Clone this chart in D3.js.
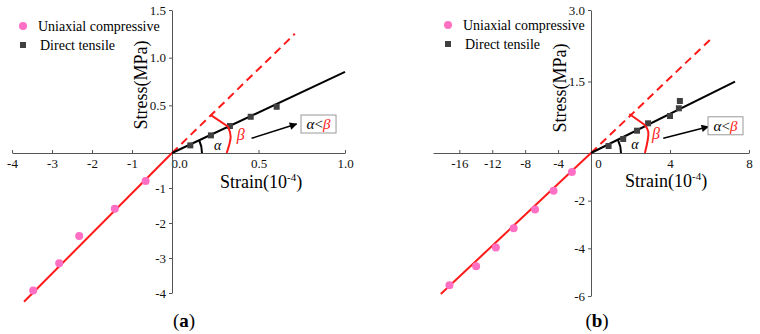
<!DOCTYPE html>
<html lang="en">
<head>
<meta charset="UTF-8">
<title>Stress-strain, compressive vs tensile</title>
<script src="https://d3js.org/d3.v7.min.js"></script>
<style>
  body { margin: 0; background: #fff; }
  svg { display: block; }
  svg text { font-family: "Liberation Serif", "DejaVu Serif", serif; }
  .axis path, .axis line { stroke: #555; }
  .axis text { font-size: 13px; fill: #111; }
</style>
</head>
<body>
<svg width="760" height="334"></svg>
<script>
const SERIF = "Liberation Serif, DejaVu Serif, serif";

// ---- panel (a) data ----
const compStrainA = [-3.47, -2.82, -2.32, -1.43, -0.66];
const compStressA = [-3.93, -3.15, -2.37, -1.59, -0.80];
const tensStrainA = [0.106, 0.225, 0.335, 0.455, 0.605];
const tensStressA = [0.08, 0.185, 0.283, 0.38, 0.485];
const compFitA = [[-3.7, -4.25], [0, 0]];
const tensFitA = [[0, 0], [1.0, 0.85]];
const dashFitA = [[0, 0], [0.71, 1.25]];
const xTicksA = [-4, -3, -2, -1, 0, 0.5, 1.0];
const yTicksA = [-4, -3, -2, -1, 0.5, 1.0, 1.5];

// ---- panel (b) data ----
const compStrainB = [-17.2, -13.96, -11.56, -9.4, -6.8, -4.55, -2.32];
const compStressB = [-5.55, -4.75, -3.96, -3.16, -2.37, -1.58, -0.80];
const tensStrainB = [0.89, 1.63, 2.33, 2.89, 4.0, 4.45, 4.5];
const tensStressB = [0.147, 0.294, 0.468, 0.623, 0.776, 0.938, 1.091];
const compFitB = [[-18.25, -5.92], [0, 0]];
const tensFitB = [[0, 0], [7.29, 1.496]];
const dashFitB = [[0, 0], [6.19, 2.44]];
const xTicksB = [-16, -12, -8, -4, 0, 4, 8];
const yTicksB = [-6, -4, -2, 1.5, 3.0];

// annotation anchors (data units)
const betaA = [[0.225, 0.398], [0.325, 0.275], [0.339, 0.171], [0.316, 0]];
const arrowA = [[0.46, 0.154], [0.72, 0.304]];
const labelsA = { alpha: [0.264, 0.06], beta: [0.397, 0.171], box: [0.847, 0.304] };
const betaB = [[1.94, 0.818], [2.73, 0.587], [2.9, 0.447], [2.73, 0]];
const arrowB = [[3.66, 0.308], [5.94, 0.552]];
const labelsB = { alpha: [2.23, 0.147], beta: [3.29, 0.378], box: [6.81, 0.571] };

const svg = d3.select("svg");

svg.append("defs").append("marker")
    .attr("id", "arrowhead")
    .attr("viewBox", "0 0 10 10")
    .attr("refX", 9).attr("refY", 5)
    .attr("markerWidth", 6).attr("markerHeight", 5)
    .attr("markerUnits", "strokeWidth")
    .attr("orient", "auto")
  .append("path")
    .attr("d", "M0,0 L10,5 L0,10 z")
    .attr("fill", "#000");

const fmt = d => d < 0 ? "-" + Math.abs(d) : null;

function drawPanel(p) {
  const x = d3.scaleLinear().domain(p.xDom).range(p.xRange);
  const y = d3.scaleLinear().domain(p.yDom).range(p.yRange);
  const g = svg.append("g").attr("font-family", SERIF);

  // x axis
  const xa = g.append("g").attr("class", "axis")
      .attr("transform", `translate(0,${y(0)})`)
      .call(d3.axisBottom(x).tickValues(p.xTicks).tickSize(-3).tickSizeOuter(0)
        .tickPadding(6).tickFormat(p.xFmt));
  xa.attr("font-family", SERIF).attr("font-size", 13);
  xa.selectAll(".tick text").filter(d => d === 0).attr("dx", 7);

  // y axis
  g.append("g").attr("class", "axis")
      .attr("transform", `translate(${x(0)},0)`)
      .call(d3.axisLeft(y).tickValues(p.yTicks).tickSize(3).tickSizeOuter(0)
        .tickPadding(3).tickFormat(p.yFmt))
      .attr("font-family", SERIF).attr("font-size", 13);

  const line = d3.line().x(d => x(d[0])).y(d => y(d[1]));

  g.append("path").attr("d", line(p.dashFit))
      .attr("fill", "none").attr("stroke", "#ff1a1a").attr("stroke-width", 2)
      .attr("stroke-dasharray", "8,5");
  g.append("path").attr("d", line(p.compFit))
      .attr("fill", "none").attr("stroke", "#ff1a1a").attr("stroke-width", 2);
  g.append("path").attr("d", line(p.tensFit))
      .attr("fill", "none").attr("stroke", "#000").attr("stroke-width", 2);

  g.selectAll(".comp").data(d3.zip(p.compStrain, p.compStress)).join("circle")
      .attr("cx", d => x(d[0])).attr("cy", d => y(d[1])).attr("r", 4)
      .attr("fill", "#ff70c4");
  g.selectAll(".tens").data(d3.zip(p.tensStrain, p.tensStress)).join("rect")
      .attr("x", d => x(d[0]) - 3).attr("y", d => y(d[1]) - 3)
      .attr("width", 6).attr("height", 6).attr("fill", "#404040");

  // alpha arc
  const end = p.tensFit[1];
  const ang = Math.atan2(y(0) - y(end[1]), x(end[0]) - x(0));
  g.append("path")
      .attr("transform", `translate(${x(0)},${y(0)})`)
      .attr("d", d3.arc()({ innerRadius: 30, outerRadius: 30, startAngle: Math.PI / 2 - ang, endAngle: Math.PI / 2 }))
      .attr("fill", "none").attr("stroke", "#000").attr("stroke-width", 2);
  g.append("text").attr("x", x(p.labels.alpha[0])).attr("y", y(p.labels.alpha[1]))
      .attr("text-anchor", "middle").attr("dominant-baseline", "middle")
      .style("font-style", "italic").style("font-size", "14px").text("α");

  // beta bracket
  g.append("path").attr("d", line(p.beta.slice(0, 2)))
      .attr("fill", "none").attr("stroke", "#ff1a1a").attr("stroke-width", 2);
  g.append("path").attr("d", line.curve(d3.curveCatmullRom)(p.beta.slice(1)))
      .attr("fill", "none").attr("stroke", "#ff1a1a").attr("stroke-width", 2);
  line.curve(d3.curveLinear);
  g.append("text").attr("x", x(p.labels.beta[0])).attr("y", y(p.labels.beta[1]))
      .attr("text-anchor", "middle").attr("dominant-baseline", "middle")
      .attr("fill", "#ff1a1a").style("font-style", "italic").style("font-size", "16px").text("β");

  // arrow
  g.append("path").attr("d", line(p.arrow))
      .attr("stroke", "#000").attr("stroke-width", 1.5).attr("marker-end", "url(#arrowhead)");

  // boxed relation
  const bx = x(p.labels.box[0]), by = y(p.labels.box[1]);
  g.append("rect").attr("x", bx - 17.5).attr("y", by - 9).attr("width", 35).attr("height", 18)
      .attr("fill", "#fff").attr("stroke", "#999").attr("stroke-width", 1);
  const bt = g.append("text").attr("x", bx).attr("y", by + 5)
      .attr("text-anchor", "middle").style("font-size", "15px");
  bt.append("tspan").style("font-style", "italic").text("α");
  bt.append("tspan").text("<");
  bt.append("tspan").style("font-style", "italic").attr("fill", "#ff1a1a").text("β");

  // axis titles
  g.append("text")
      .attr("transform", `translate(${p.yTitle[0]},${p.yTitle[1]}) rotate(-90)`)
      .attr("text-anchor", "middle").style("font-size", "18px").text("Stress(MPa)");
  const xt = g.append("text").attr("x", p.xTitle[0]).attr("y", p.xTitle[1])
      .style("font-size", "18px");
  xt.append("tspan").text("Strain(10");
  xt.append("tspan").attr("dy", -7).style("font-size", "11px").text("-4");
  xt.append("tspan").attr("dy", 7).text(")");

  // legend
  g.append("circle").attr("cx", p.legend[0]).attr("cy", p.legend[1]).attr("r", 4).attr("fill", "#ff70c4");
  g.append("text").attr("x", p.legend[0] + 15).attr("y", p.legend[1] + 5)
      .style("font-size", "14px").text("Uniaxial compressive");
  g.append("rect").attr("x", p.legend[0] - 3).attr("y", p.legend[1] + 16).attr("width", 6).attr("height", 6)
      .attr("fill", "#404040");
  g.append("text").attr("x", p.legend[0] + 17).attr("y", p.legend[1] + 24)
      .style("font-size", "14px").text("Direct tensile");

  // panel tag
  const tag = g.append("text").attr("x", p.tag[0]).attr("y", p.tag[1])
      .attr("text-anchor", "middle").style("font-size", "19px");
  tag.append("tspan").text("(");
  tag.append("tspan").style("font-weight", "bold").text(p.tagText);
  tag.append("tspan").text(")");
}

drawPanel({
  xDom: [-4, 0, 1], xRange: [12, 172, 345],
  yDom: [-4, 0, 1.5], yRange: [293, 153, 10],
  xTicks: xTicksA, yTicks: yTicksA,
  xFmt: d => d < 0 ? fmt(d) : d3.format(".1f")(d),
  yFmt: d => d < 0 ? fmt(d) : d3.format(".1f")(d),
  compStrain: compStrainA, compStress: compStressA,
  tensStrain: tensStrainA, tensStress: tensStressA,
  compFit: compFitA, tensFit: tensFitA, dashFit: dashFitA,
  beta: betaA, arrow: arrowA, labels: labelsA,
  yTitle: [147, 85], xTitle: [220, 188],
  legend: [23, 26], tag: [184, 327], tagText: "a"
});

drawPanel({
  xDom: [-19.2, 0, 8], xRange: [433, 591, 749],
  yDom: [-6, 0, 3], yRange: [296, 153, 10],
  xTicks: xTicksB, yTicks: yTicksB,
  xFmt: d => d < 0 ? fmt(d) : String(d),
  yFmt: d => d < 0 ? fmt(d) : d3.format(".1f")(d),
  compStrain: compStrainB, compStress: compStressB,
  tensStrain: tensStrainB, tensStress: tensStressB,
  compFit: compFitB, tensFit: tensFitB, dashFit: dashFitB,
  beta: betaB, arrow: arrowB, labels: labelsB,
  yTitle: [566, 88], xTitle: [625, 187],
  legend: [448, 25], tag: [597, 327], tagText: "b"
});
</script>
</body>
</html>
